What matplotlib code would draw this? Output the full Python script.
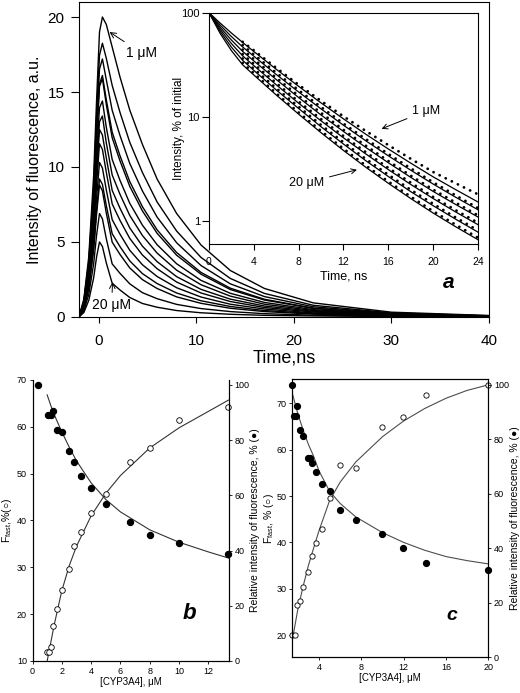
import matplotlib
matplotlib.use("Agg")
import matplotlib.pyplot as plt
from matplotlib.ticker import NullLocator

plt.rcParams['font.family'] = ['Liberation Sans', 'DejaVu Sans']

# ---- panel a: fluorescence decay curves (1 uM ... 20 uM) ----
t_main = [-2, -1.5, -1, -0.5, -0.2, 0.1, 0.4, 0.8, 1.4, 2.2, 3.2, 4.5, 6, 8, 10.5, 13.5, 17, 22, 30, 40]
fl01 = [0, 1.2, 4.0, 9.4, 14.4, 19.0, 20.0, 19.5, 18.0, 16.0, 13.8, 11.5, 9.2, 6.9, 4.8, 3.1, 1.9, 0.94, 0.32, 0.1]
fl02 = [0, 1.10, 3.69, 8.69, 13.32, 17.45, 18.25, 17.24, 15.44, 13.64, 11.65, 9.63, 7.67, 5.73, 3.97, 2.57, 1.57, 0.78, 0.27, 0.08]
fl03 = [0, 1.03, 3.52, 8.27, 12.69, 16.53, 17.2, 15.81, 13.78, 12.10, 10.24, 8.40, 6.66, 4.95, 3.43, 2.21, 1.36, 0.68, 0.24, 0.07]
fl04 = [0, 0.97, 3.32, 7.81, 11.98, 15.54, 16.1, 14.47, 12.32, 10.75, 9.03, 7.35, 5.81, 4.30, 2.97, 1.92, 1.18, 0.59, 0.21, 0.07]
fl05 = [0, 0.95, 3.28, 7.74, 11.87, 15.37, 15.9, 14.16, 11.95, 10.41, 8.71, 7.07, 5.58, 4.12, 2.85, 1.83, 1.13, 0.57, 0.20, 0.06]
fl06 = [0, 0.86, 2.99, 7.04, 10.81, 13.95, 14.4, 12.64, 10.50, 9.11, 7.58, 6.12, 4.82, 3.55, 2.44, 1.58, 0.97, 0.49, 0.18, 0.06]
fl07 = [0, 0.80, 2.80, 6.59, 10.11, 13.02, 13.4, 11.60, 9.47, 8.18, 6.77, 5.43, 4.26, 3.12, 2.15, 1.39, 0.85, 0.43, 0.16, 0.05]
fl08 = [0, 0.75, 2.63, 6.19, 9.50, 12.5, 12.13, 10.59, 8.44, 7.25, 5.94, 4.72, 3.69, 2.69, 1.84, 1.19, 0.73, 0.38, 0.14, 0.04]
fl09 = [0, 0.69, 2.44, 5.75, 8.82, 11.55, 11.17, 9.64, 7.54, 6.44, 5.24, 4.13, 3.22, 2.33, 1.60, 1.03, 0.63, 0.33, 0.12, 0.04]
fl10 = [0, 0.62, 2.18, 5.15, 7.91, 10.3, 9.93, 8.47, 6.49, 5.52, 4.45, 3.48, 2.70, 1.95, 1.33, 0.85, 0.53, 0.27, 0.10, 0.03]
fl11 = [0, 0.55, 1.96, 4.63, 7.11, 9.2, 8.84, 7.42, 5.55, 4.69, 3.74, 2.89, 2.23, 1.60, 1.08, 0.70, 0.43, 0.23, 0.09, 0.03]
fl12 = [0, 0.53, 1.89, 4.46, 6.86, 8.8, 8.41, 6.92, 4.99, 4.17, 3.27, 2.49, 1.90, 1.34, 0.91, 0.58, 0.36, 0.19, 0.08, 0.02]
fl13 = [0, 0.41, 1.50, 3.54, 5.44, 6.9, 6.54, 5.21, 3.54, 2.91, 2.21, 1.62, 1.22, 0.84, 0.56, 0.36, 0.22, 0.12, 0.05, 0.02]
fl14 = [0, 0.3, 1.1, 2.6, 4.0, 5.0, 4.7, 3.6, 2.25, 1.8, 1.3, 0.9, 0.65, 0.43, 0.28, 0.18, 0.11, 0.07, 0.03, 0.01]
main_curves = [fl01, fl02, fl03, fl04, fl05, fl06, fl07, fl08, fl09, fl10, fl11, fl12, fl13, fl14]

# inset: % of initial, fits (lines) and data (dots)
t_fit = [0, 1, 2, 3, 4, 6, 8, 10, 12, 14, 16, 18, 20, 22, 24]
fit1 = [100, 79.4, 63.8, 51.8, 42.4, 28.6, 19.6, 13.6, 9.55, 6.79, 4.91, 3.59, 2.65, 2.0, 1.52]
fit2 = [100, 75.9, 59.0, 46.9, 38.2, 25.5, 17.3, 11.9, 8.30, 5.87, 4.22, 3.07, 2.26, 1.69, 1.28]
fit3 = [100, 72.4, 54.6, 42.5, 34.4, 22.8, 15.3, 10.4, 7.23, 5.07, 3.62, 2.62, 1.92, 1.44, 1.09]
fit4 = [100, 69.2, 50.5, 38.5, 31.0, 20.3, 13.5, 9.14, 6.28, 4.39, 3.11, 2.24, 1.64, 1.22, 0.92]
fit5 = [100, 66.1, 46.7, 34.9, 27.9, 18.1, 12.0, 8.02, 5.47, 3.78, 2.67, 1.91, 1.40, 1.04, 0.78]
fit6 = [100, 63.1, 43.2, 31.6, 25.2, 16.2, 10.6, 7.03, 4.75, 3.27, 2.30, 1.64, 1.19, 0.88, 0.66]
t_dat = [3, 4, 6, 8, 10, 12, 14, 16, 18, 20, 22, 24]
dat1 = [52.5, 43.5, 29.5, 20.3, 14.2, 10.1, 7.3, 5.35, 3.95, 2.95, 2.3, 1.8]
dat2 = [48.8, 39.7, 26.5, 18.0, 12.4, 8.6, 6.1, 4.4, 3.2, 2.35, 1.76, 1.33]
dat3 = [44.2, 35.8, 23.7, 15.9, 10.9, 7.5, 5.27, 3.76, 2.72, 2.0, 1.5, 1.13]
dat4 = [40.0, 32.2, 21.1, 14.0, 9.5, 6.53, 4.57, 3.23, 2.33, 1.7, 1.27, 0.96]
dat5 = [36.3, 29.0, 18.8, 12.5, 8.34, 5.69, 3.93, 2.78, 1.99, 1.46, 1.08, 0.81]
dat6 = [32.9, 26.2, 16.8, 11.0, 7.31, 4.94, 3.4, 2.39, 1.71, 1.24, 0.92, 0.69]
fits = [fit1, fit2, fit3, fit4, fit5, fit6]
dats = [dat1, dat2, dat3, dat4, dat5, dat6]

# ---- panel b ----
b_x_open = [0.98, 1.11, 1.25, 1.41, 1.66, 2.0, 2.5, 2.84, 3.32, 3.98, 5.0, 6.66, 8.02, 10.0, 13.3]
b_ffast = [12.0, 12.0, 13.0, 17.4, 21.1, 25.1, 29.6, 34.5, 37.6, 41.6, 45.7, 52.4, 55.4, 61.4, 64.3]
b_x_fill = [0.36, 1.05, 1.23, 1.43, 1.66, 2.0, 2.5, 2.84, 3.32, 3.98, 5.0, 6.66, 8.02, 10.0, 13.3]
b_rel = [100, 89.1, 89.1, 90.7, 83.7, 83.1, 76.1, 72.2, 67.0, 62.8, 56.7, 50.2, 45.8, 42.8, 38.6]
b_fit_x = [1.0, 1.25, 1.5, 2, 2.5, 3, 4, 5, 6, 8, 10, 12, 13.36]
b_fit_ffast = [10.0, 14.0, 18.0, 25.0, 30.3, 34.5, 41.0, 45.8, 49.6, 55.5, 59.8, 63.3, 65.7]
b_fit_rel = [96.4, 92.5, 89.0, 83.0, 77.5, 72.5, 64.5, 58.5, 54.0, 47.5, 43.0, 39.5, 37.3]

# ---- panel c ----
c_x_fill = [1.48, 1.63, 1.79, 1.92, 2.17, 2.49, 2.96, 3.12, 3.34, 3.75, 4.28, 5.01, 5.99, 7.53, 9.99, 11.95, 14.16, 19.99]
c_rel = [100, 88.5, 88.5, 92.4, 83.4, 81.2, 73.2, 73.2, 71.3, 68.1, 63.8, 61.1, 54.1, 50.4, 45.3, 40.0, 34.6, 32.0]
c_x_open = [1.48, 1.70, 1.92, 2.17, 2.49, 2.96, 3.34, 3.75, 4.28, 5.01, 5.99, 7.53, 9.99, 11.95, 14.16, 19.99]
c_ffast = [20.0, 20.0, 26.5, 27.4, 30.4, 33.7, 37.0, 39.8, 42.9, 49.5, 56.8, 56.0, 64.8, 67.1, 71.8, 74.0]
c_fit_x = [1.48, 2, 2.5, 3, 3.5, 4, 5, 6, 7.5, 10, 12, 14, 16, 18, 20]
c_fit_rel = [97.0, 89.5, 83.5, 78.2, 73.8, 68.5, 61.0, 56.5, 51.5, 45.8, 42.2, 39.3, 37.0, 35.5, 34.3]
c_fit_ffast = [18.9, 25.5, 30.5, 35.0, 38.8, 42.5, 49.0, 53.0, 57.4, 62.8, 66.2, 68.9, 71.1, 72.8, 74.0]

fig = plt.figure(figsize=(5.2, 6.93), dpi=100)

# main axes
ax = fig.add_axes([0.1519, 0.5426, 0.7885, 0.4545])
for c in main_curves:
    ax.plot(t_main, c, color='k', lw=1.0)
ax.set_xlim(-2, 40)
ax.set_ylim(0, 21)
ax.set_xticks([0, 10, 20, 30, 40])
ax.set_yticks([0, 5, 10, 15, 20])
ax.tick_params(direction='out', labelsize=11)
ax.tick_params(axis='y', length=5.5, pad=5)
ax.tick_params(axis='x', length=4, pad=8)
ax.set_xlabel('Time,ns', fontsize=13, labelpad=1)
ax.set_ylabel('Intensity of fluorescence, a.u.', fontsize=11.5)
ax.annotate('1 μM', xy=(1.13, 19.0), xytext=(4.4, 17.6), fontsize=10,
            ha='center', va='center',
            arrowprops=dict(arrowstyle='->', lw=0.7, shrinkA=2, shrinkB=0))
ax.annotate('20 μM', xy=(1.44, 2.33), xytext=(1.34, 0.8), fontsize=10,
            ha='center', va='center',
            arrowprops=dict(arrowstyle='->', lw=0.7, shrinkA=2, shrinkB=0))

# inset
axi = fig.add_axes([0.4019, 0.6479, 0.5173, 0.3338])
axi.set_facecolor('white')
for f in fits:
    axi.plot(t_fit, f, color='k', lw=0.9)
for d in dats:
    axi.plot(t_dat, d, color='k', lw=2.0, linestyle=(0, (0.05, 2.4)),
             dash_capstyle='round')
axi.set_yscale('log')
axi.set_xlim(0, 24)
axi.set_ylim(0.6, 100)
axi.set_xticks([0, 4, 8, 12, 16, 20, 24])
axi.set_yticks([1, 10, 100], labels=['1', '10', '100'])
axi.yaxis.set_minor_locator(NullLocator())
axi.tick_params(direction='out')
axi.tick_params(axis='x', labelsize=7.5, length=4, pad=5)
axi.tick_params(axis='y', labelsize=8, length=5, pad=1.5)
axi.set_xlabel('Time, ns', fontsize=9, labelpad=3)
axi.set_ylabel('Intensity, % of initial', fontsize=8.5)
axi.yaxis.set_label_coords(-0.09, 0.5)
axi.annotate('1 μM', xy=(15.4, 7.67), xytext=(19.4, 11.4), fontsize=9,
             ha='center', va='center',
             arrowprops=dict(arrowstyle='->', lw=0.7, shrinkA=2, shrinkB=0))
axi.annotate('20 μM', xy=(13.2, 3.1), xytext=(8.7, 2.32), fontsize=9,
             ha='center', va='center',
             arrowprops=dict(arrowstyle='->', lw=0.7, shrinkA=2, shrinkB=0))
fig.text(0.8635, 0.593, 'a', fontsize=15, fontweight='bold', style='italic',
         ha='center', va='center')

# panel b
axb = fig.add_axes([0.0625, 0.0462, 0.3779, 0.4055])
axb.plot(b_fit_x, b_fit_ffast, color='0.2', lw=0.8)
axb.plot(b_x_open, b_ffast, 'o', mfc='white', mec='k', ms=4, mew=0.6, clip_on=False)
axb.set_xlim(0, 13.4)
axb.set_ylim(10, 70)
axb.set_xticks(range(0, 13, 2))
axb.set_yticks(range(10, 71, 10))
axb.set_xlabel('[CYP3A4], μM', fontsize=7, labelpad=1)
axb.set_ylabel('F$_{\\mathregular{fast}}$,%(○)', fontsize=7.5, labelpad=2)
axb2 = axb.twinx()
axb2.plot(b_fit_x, b_fit_rel, color='0.2', lw=0.8)
axb2.plot(b_x_fill, b_rel, 'o', color='k', ms=4.3, clip_on=False)
axb2.set_ylim(0, 101.8)
axb2.set_yticks(range(0, 101, 20))
axb2.set_ylabel('Relative intensity of fluorescence, % (●)', fontsize=7.5, labelpad=0.5)
for a in (axb, axb2):
    a.spines['top'].set_visible(False)
    for s in a.spines.values():
        s.set_linewidth(0.8)
    a.tick_params(direction='out', length=2.5, width=0.6, labelsize=6.5, pad=1.5)
axb.text(0.80, 0.17, 'b', transform=axb.transAxes, fontsize=16,
         fontweight='bold', style='italic', ha='center', va='center')

# panel c
axc = fig.add_axes([0.5615, 0.0515, 0.3775, 0.4012])
axc.plot(c_fit_x, c_fit_ffast, color='0.3', lw=0.8)
axc.plot(c_x_open, c_ffast, 'o', mfc='white', mec='k', ms=3.8, mew=0.6, clip_on=False)
axc.set_xlim(1.45, 20)
axc.set_ylim(15.2, 75.2)
axc.set_xticks([4, 8, 12, 16, 20])
axc.set_yticks(range(20, 71, 10))
axc.set_xlabel('[CYP3A4], μM', fontsize=7, labelpad=1)
axc.set_ylabel('F$_{\\mathregular{fast}}$, % (○)', fontsize=7.5, labelpad=0.5)
axc2 = axc.twinx()
axc2.plot(c_fit_x, c_fit_rel, color='0.3', lw=0.8)
axc2.plot(c_x_fill, c_rel, 'o', color='k', ms=4.2, clip_on=False)
axc2.set_ylim(0, 102.1)
axc2.set_yticks(range(0, 101, 20))
axc2.set_ylabel('Relative intensity of fluorescence, % (●)', fontsize=7.5, labelpad=0.5)
for a in (axc, axc2):
    for s in a.spines.values():
        s.set_linewidth(0.8)
    a.tick_params(direction='out', length=2.5, width=0.6, labelsize=6.5, pad=1.5)
axc.text(0.815, 0.152, 'c', transform=axc.transAxes, fontsize=14,
         fontweight='bold', style='italic', ha='center', va='center')

fig.savefig('out.png', dpi=100)
